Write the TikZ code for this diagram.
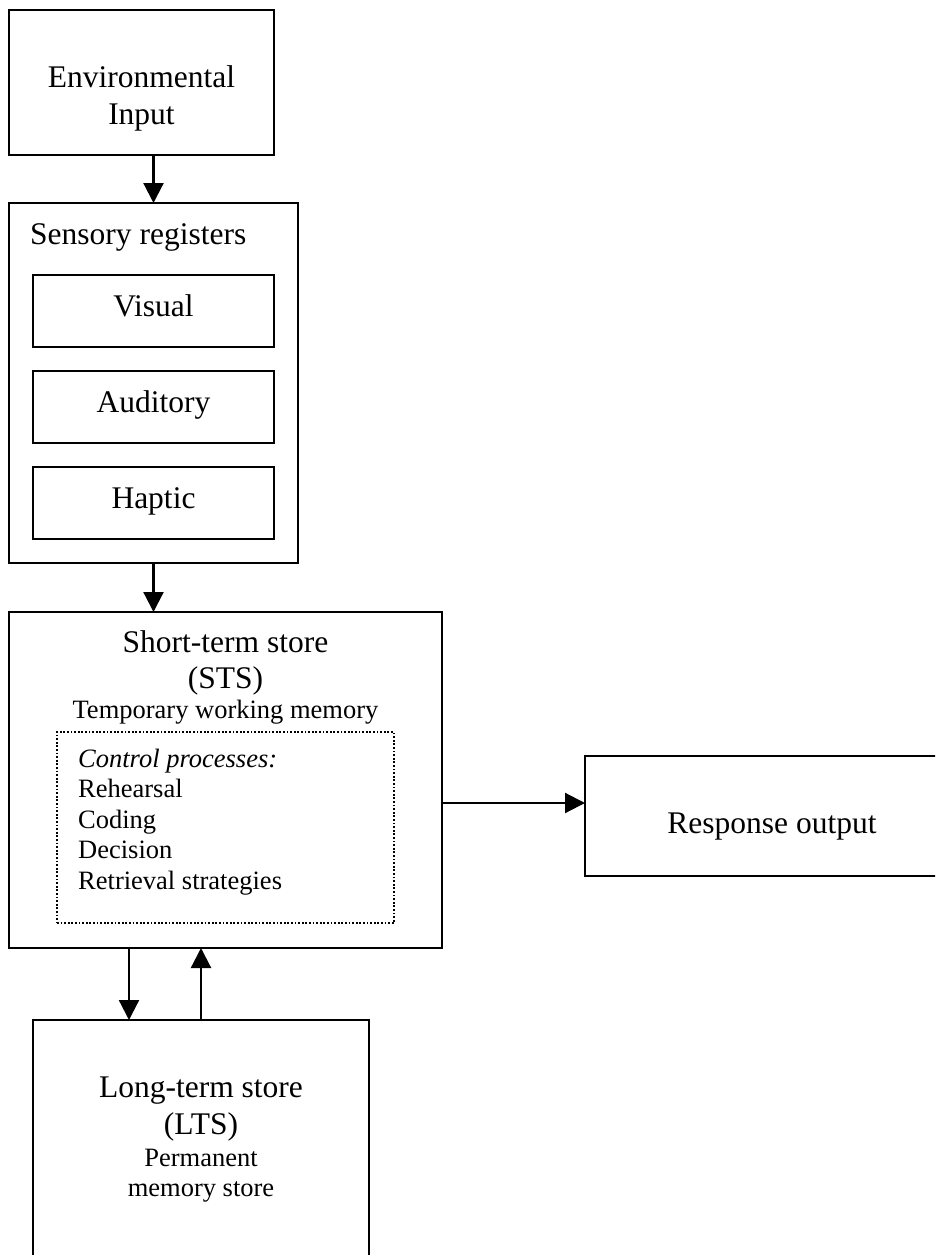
\documentclass[tikz,border=0pt]{standalone}
\usepackage{fontspec}
\setmainfont{Liberation Serif}
\usetikzlibrary{arrows.meta}
\begin{document}
\begin{tikzpicture}[x=1pt,y=-1pt,
  box/.style={draw, line width=2.2pt, rectangle, inner sep=0pt, outer sep=0pt, anchor=north west},
  dotbox/.style={box, line width=1.8pt, dash pattern=on 1.8pt off 1.8pt},
  big/.style={inner sep=0pt, anchor=base, font=\fontsize{31.5}{36}\selectfont},
  small/.style={inner sep=0pt, anchor=base, font=\fontsize{26.5}{31}\selectfont},
  arr/.style={line width=2.2pt, -{Triangle[length=20pt,width=20pt]}}
]
\useasboundingbox (0,0) rectangle (935,1255);
\clip (0,0) rectangle (935,1255);

% environmental input
\node[box, minimum width=265pt, minimum height=145pt] (env) at (9,10) {};
\node[big] (envA) at (141.5,87) {Environmental};
\node[big] (envB) at (141.5,124) {Input};

% sensory registers with its three channels
\node[box, minimum width=289pt, minimum height=360pt] (sens) at (9,203) {};
\node[big, anchor=base west] (sensT) at (30,244) {Sensory registers};
\node[box, minimum width=241pt, minimum height=72pt] (vis) at (33,275) {};
\node[big] (visT) at (153.5,316) {Visual};
\node[box, minimum width=241pt, minimum height=72pt] (aud) at (33,371) {};
\node[big] (audT) at (153.5,412) {Auditory};
\node[box, minimum width=241pt, minimum height=72pt] (hap) at (33,467) {};
\node[big] (hapT) at (153.5,508) {Haptic};

% short-term store
\node[box, minimum width=433pt, minimum height=336pt] (sts) at (9,612) {};
\node[big] (stsA) at (225.5,652) {Short-term store};
\node[big] (stsB) at (225.5,688) {(STS)};
\node[small] (stsC) at (225.5,718) {Temporary working memory};
\node[dotbox, minimum width=337pt, minimum height=191pt] (ctrl) at (57,732) {};
\node[small, anchor=base west] (c0) at (78,767) {\itshape Control processes:};
\node[small, anchor=base west] (c1) at (78,797) {Rehearsal};
\node[small, anchor=base west] (c2) at (78,828) {Coding};
\node[small, anchor=base west] (c3) at (78,858) {Decision};
\node[small, anchor=base west] (c4) at (78,889) {Retrieval strategies};

% response output
\node[box, minimum width=375pt, minimum height=120pt] (resp) at (585,756) {};
\node[big] (respT) at (772,833) {Response output};

% long-term store
\node[box, minimum width=336pt, minimum height=260pt] (lts) at (33,1020) {};
\node[big] (ltsA) at (201,1097) {Long-term store};
\node[big] (ltsB) at (201,1134) {(LTS)};
\node[small] (ltsC) at (201,1166) {Permanent};
\node[small] (ltsD) at (201,1196) {memory store};

% connectors
\draw[arr] (env.south -| sens.north) -- (sens.north);
\draw[arr] (sens.south) -- (sens.south |- sts.north);
\draw[arr] ([yshift=13pt]resp.west -| sts.east) -- ([yshift=13pt]resp.west);
\draw[arr] ([xshift=-72pt]lts.north |- sts.south) -- ([xshift=-72pt]lts.north);
\draw[arr] (lts.north) -- (lts.north |- sts.south);
\end{tikzpicture}
\end{document}
